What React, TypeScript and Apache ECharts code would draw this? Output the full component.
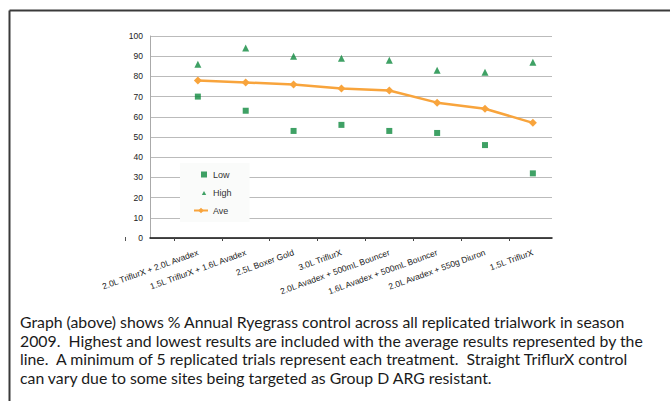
import React, { useEffect, useRef } from "react";
import * as echarts from "echarts";

const categories = [
  "2.0L TriflurX + 2.0L Avadex",
  "1.5L TriflurX + 1.6L Avadex",
  "2.5L Boxer Gold",
  "3.0L TriflurX",
  "2.0L Avadex + 500mL Bouncer",
  "1.6L Avadex + 500mL Bouncer",
  "2.0L Avadex + 550g Diuron",
  "1.5L TriflurX",
];
const lowValues = [70, 63, 53, 56, 53, 52, 46, 32];
const highValues = [86, 94, 90, 89, 88, 83, 82, 87];
const aveValues = [78, 77, 76, 74, 73, 67, 64, 57];
const seriesNames = ["Low", "High", "Ave"];
const captionLines = [
  "Graph (above) shows % Annual Ryegrass control across all replicated trialwork in season",
  "2009.  Highest and lowest results are included with the average results represented by the",
  "line.  A minimum of 5 replicated trials represent each treatment.  Straight TriflurX control",
  "can vary due to some sites being targeted as Group D ARG resistant.",
];

const GREEN = "#0f8a3f";
const ORANGE = "#f8a43c";

export default function App() {
  const ref = useRef<HTMLDivElement>(null);
  useEffect(() => {
    if (!ref.current) return;
    const chart = echarts.init(ref.current, null, { renderer: "svg" });
    const idx = categories.map((_, i) => i);
    const toPairs = (arr: number[]) => arr.map((v, i) => [i, v]);
    chart.setOption({
      animation: false,
      backgroundColor: "#ffffff",
      grid: { left: 150, top: 36, right: 118, bottom: 163 },
      legend: {
        orient: "vertical",
        left: 180,
        top: 163,
        backgroundColor: "#fafbfa",
        padding: [7, 18, 7, 13],
        itemGap: 9,
        itemWidth: 14,
        itemHeight: 7,
        symbolKeepAspect: true,
        textStyle: { fontFamily: "Liberation Sans", fontSize: 9, color: "#333" },
        data: [
          { name: seriesNames[0], icon: "path://M0,0M14,7M7,0.5h6v6h-6z" },
          { name: seriesNames[1], icon: "path://M0,0M14,7M10,2L12.2,6L7.8,6z" },
          { name: seriesNames[2] },
        ],
      },
      xAxis: {
        type: "value",
        min: -1,
        max: 7.4,
        splitLine: { show: false },
        axisLine: { show: true, onZero: false, lineStyle: { color: "#111", width: 1.5 } },
        axisTick: {
          show: true,
          length: 3,
          customValues: idx.map((i) => i - 0.5),
          lineStyle: { color: "#444" },
        },
        axisLabel: {
          customValues: idx,
          rotate: 20,
          margin: 14,
          fontFamily: "Liberation Sans",
          fontSize: 8.5,
          color: "#222",
          formatter: (v: number) => categories[Math.round(v)] ?? "",
        },
      },
      yAxis: {
        type: "value",
        min: 0,
        max: 100,
        interval: 10,
        axisLine: { show: true, onZero: false, lineStyle: { color: "#aaa" } },
        axisTick: { show: false },
        splitLine: { lineStyle: { color: "#bbb", width: 1 } },
        axisLabel: {
          margin: 7,
          fontFamily: "Liberation Sans",
          fontSize: 8.5,
          color: "#222",
        },
      },
      series: [
        {
          name: seriesNames[0],
          type: "scatter",
          symbol: "rect",
          symbolSize: 6,
          itemStyle: { color: GREEN },
          data: toPairs(lowValues),
        },
        {
          name: seriesNames[1],
          type: "scatter",
          symbol: "triangle",
          symbolSize: 7,
          itemStyle: { color: GREEN },
          data: toPairs(highValues),
        },
        {
          name: seriesNames[2],
          type: "line",
          symbol: "diamond",
          symbolSize: 8,
          lineStyle: { color: ORANGE, width: 2.5 },
          itemStyle: { color: ORANGE },
          data: toPairs(aveValues),
        },
      ],
      graphic: [
        {
          type: "line",
          shape: { x1: 9.5, y1: 10.5, x2: 670, y2: 10.5 },
          style: { stroke: "#3a3a3a", lineWidth: 2 },
        },
        {
          type: "line",
          shape: { x1: 9.5, y1: 10.5, x2: 9.5, y2: 401 },
          style: { stroke: "#3a3a3a", lineWidth: 2 },
        },
        {
          type: "line",
          shape: { x1: 125.5, y1: 237, x2: 125.5, y2: 241 },
          style: { stroke: "#555", lineWidth: 1 },
        },
        {
          type: "text",
          left: 20,
          top: 312,
          style: {
            text: captionLines.join("\n"),
            font: "15.8px Lato",
            lineHeight: 18.7,
            fill: "#1a1a1a",
          },
        },
      ],
    });
    return () => chart.dispose();
  }, []);
  return (
    <div
      ref={ref}
      style={{ position: "fixed", left: 0, top: 0, width: 670, height: 401 }}
    />
  );
}
